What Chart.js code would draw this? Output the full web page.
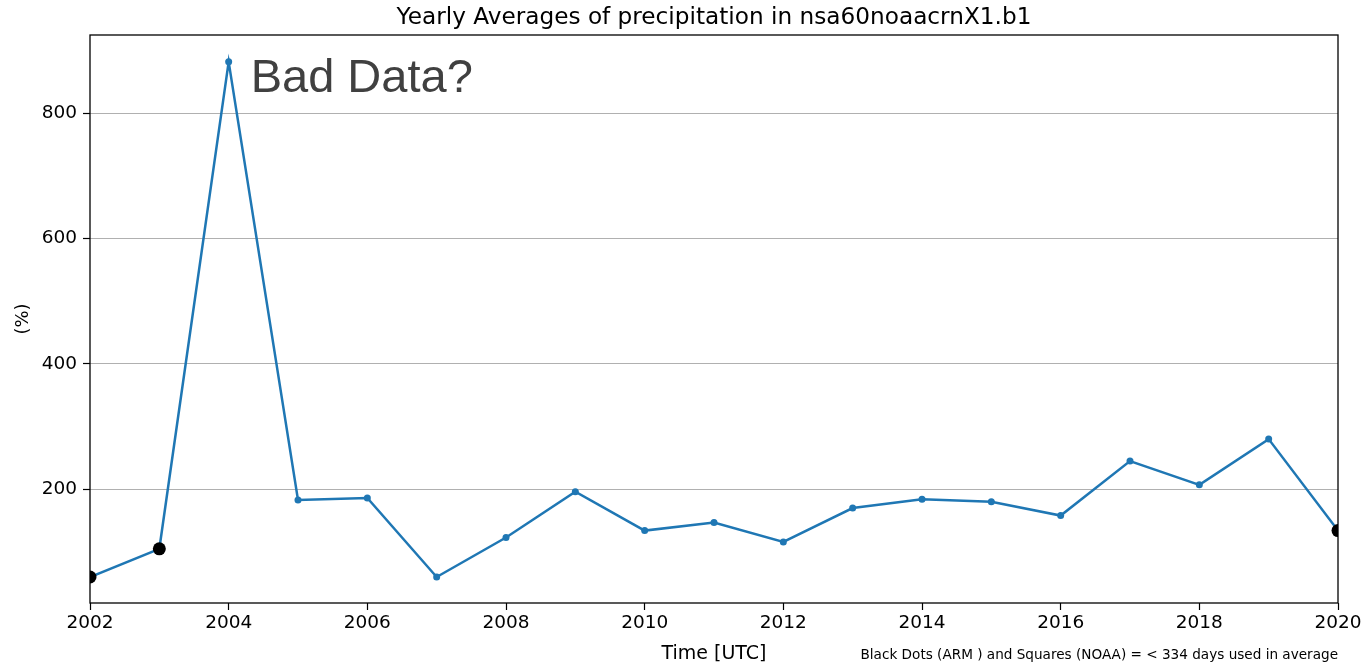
<!DOCTYPE html>
<html>
<head>
<meta charset="utf-8">
<script src="https://cdn.jsdelivr.net/npm/chart.js@4.4.1/dist/chart.umd.min.js"></script>
<style>
  html, body { margin: 0; padding: 0; background: #fff; }
  #wrap { width: 1370px; height: 663px; position: relative; }
</style>
</head>
<body>
<div id="wrap"><canvas id="c" width="1370" height="663"></canvas></div>
<script>
// Yearly average precipitation, nsa60noaacrnX1.b1
const years = [2002, 2003, 2004, 2005, 2006, 2007, 2008, 2009, 2010, 2011,
               2012, 2013, 2014, 2015, 2016, 2017, 2018, 2019, 2020];
const precipPct = [60, 105, 882, 183, 186, 60, 123, 196, 134, 147,
                   116, 170, 184, 180, 158, 245, 207, 280, 134];
// years averaged over fewer than 334 days
const shortYears = [2002, 2003, 2020];
const yTicks = [200, 400, 600, 800];
const xTicks = [2002, 2004, 2006, 2008, 2010, 2012, 2014, 2016, 2018, 2020];

const titleText = 'Yearly Averages of precipitation in nsa60noaacrnX1.b1';
const xLabel = 'Time [UTC]';
const yLabel = '(%)';
const footText = 'Black Dots (ARM ) and Squares (NOAA) = < 334 days used in average';
const noteText = 'Bad Data?';

const BLUE = '#1f77b4';
const TICK_FONT = { family: 'DejaVu Sans', size: 18.5 };

const points = years.map((y, i) => ({ x: y, y: precipPct[i] }));
const isShort = years.map(y => shortYears.includes(y));

const framePlugin = {
  id: 'frame',
  afterDatasetsDraw(chart) {
    const { ctx, chartArea: a } = chart;
    ctx.save();
    ctx.strokeStyle = '#000';
    ctx.lineWidth = 1.3;
    ctx.strokeRect(a.left, a.top, a.right - a.left, a.bottom - a.top);
    ctx.restore();
  },
  afterDraw(chart) {
    const { ctx, chartArea: a, scales } = chart;
    ctx.save();
    ctx.fillStyle = '#000';
    ctx.textBaseline = 'alphabetic';
    // title
    ctx.font = '23.2px "DejaVu Sans"';
    ctx.textAlign = 'center';
    ctx.fillText(titleText, (a.left + a.right) / 2, 24);
    // x axis title
    ctx.font = '19px "DejaVu Sans"';
    ctx.fillText(xLabel, (a.left + a.right) / 2, 659);
    // y axis title
    ctx.save();
    ctx.translate(28, (a.top + a.bottom) / 2);
    ctx.rotate(-Math.PI / 2);
    ctx.font = '18px "DejaVu Sans"';
    ctx.fillText(yLabel, 0, 0);
    ctx.restore();
    // footnote
    ctx.font = '13.6px "DejaVu Sans"';
    ctx.textAlign = 'right';
    ctx.fillText(footText, a.right, 659);
    // annotation next to the 2004 value
    ctx.font = '47px "Liberation Sans"';
    ctx.textAlign = 'left';
    ctx.fillStyle = '#404040';
    const px = scales.x.getPixelForValue(2004);
    ctx.fillText(noteText, px + 22, 92);
    ctx.restore();
  }
};

new Chart(document.getElementById('c'), {
  type: 'line',
  data: {
    datasets: [{
      data: points,
      borderColor: BLUE,
      borderWidth: 2.5,
      backgroundColor: BLUE,
      pointBackgroundColor: isShort.map(s => s ? '#000' : BLUE),
      pointBorderColor: isShort.map(s => s ? '#000' : BLUE),
      pointRadius: isShort.map(s => s ? 6.5 : 3.5),
      pointBorderWidth: 0,
      tension: 0,
      clip: 0
    }]
  },
  options: {
    responsive: false,
    animation: false,
    events: [],
    layout: { padding: { top: 35, right: 32, bottom: 0, left: 0 } },
    plugins: { legend: { display: false }, title: { display: false }, tooltip: { enabled: false } },
    scales: {
      x: {
        type: 'linear',
        min: 2002,
        max: 2020,
        afterFit(s) { s.height = 60; },
        afterBuildTicks(s) { s.ticks = xTicks.map(v => ({ value: v })); },
        grid: { drawOnChartArea: false, drawTicks: true, tickLength: 7, tickColor: '#000', tickWidth: 1.2 },
        border: { display: false },
        ticks: { color: '#000', font: TICK_FONT, padding: 2, maxRotation: 0, autoSkip: false,
                 callback: v => String(v) }
      },
      y: {
        type: 'linear',
        min: 18.5,
        max: 924.8,
        afterFit(s) { s.width = 90; },
        afterBuildTicks(s) { s.ticks = yTicks.map(v => ({ value: v })); },
        grid: { color: '#b0b0b0', lineWidth: 1, drawTicks: true, tickLength: 7, tickColor: '#000', tickWidth: 1.2 },
        border: { display: false },
        ticks: { color: '#000', font: TICK_FONT, padding: 6, callback: v => String(v) }
      }
    }
  },
  plugins: [framePlugin]
});
</script>
</body>
</html>
